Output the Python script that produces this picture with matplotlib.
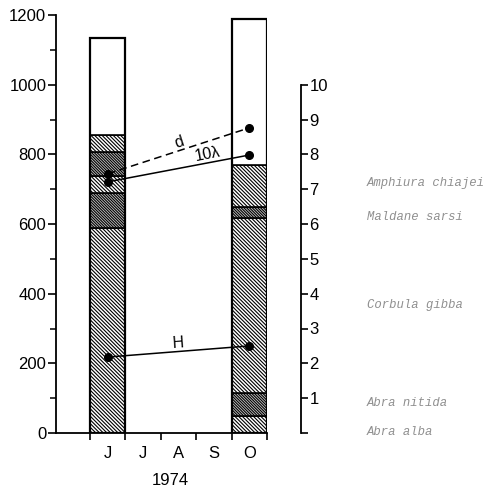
import matplotlib
matplotlib.use("Agg")
import matplotlib.pyplot as plt
from matplotlib.ticker import FixedLocator

plt.rcParams['font.family'] = ['Liberation Sans', 'DejaVu Sans']
plt.rcParams['hatch.linewidth'] = 0.8

# months along x (one slot each), year label
months = ['J', 'J', 'A', 'S', 'O']
year = '1974'

# biomass layers (left axis), bottom to top, for June (slot 0) and October (slot 4)
june_layers = [589, 99, 51, 69, 47]
june_total = 1135
oct_layers = [50, 64, 502, 34, 119]
oct_total = 1188
layer_dense = [False, True, False, True, False]

# index lines (right axis), values at June and October
line_names = ['d', '10λ', 'H']
line_june = [7.44, 7.21, 2.18]
line_oct = [8.76, 7.98, 2.50]
line_styles = [(0, (5, 3)), '-', '-']
line_label_pos = [(2.51, 8.33, 18), (3.31, 8.01, 11), (2.49, 2.58, 4)]

# species legend text, left-axis height of each label
species = ['Amphiura chiajei', 'Maldane sarsi', 'Corbula gibba', 'Abra nitida', 'Abra alba']
species_y = [718, 620, 367, 86, 3]

fig = plt.figure(figsize=(4.94, 4.91), dpi=100)
ax = fig.add_axes([56 / 494, 58 / 491, 211 / 494, 418 / 491])
ax.set_xlim(-0.96, 5)
ax.set_ylim(0, 1200)


def draw_bar(x, layers, total):
    bottom = 0
    for h, dense in zip(layers, layer_dense):
        if dense:
            ax.bar(x, h, width=1, bottom=bottom, align='edge', facecolor='#c6c6c6',
                   edgecolor='black', hatch='\\' * 12, linewidth=1.2, zorder=2)
        else:
            ax.bar(x, h, width=1, bottom=bottom, align='edge', facecolor='white',
                   edgecolor='black', hatch='\\' * 9, linewidth=1.2, zorder=2)
        bottom += h
    ax.bar(x, total - bottom, width=1, bottom=bottom, align='edge', facecolor='white',
           edgecolor='black', linewidth=1.2, zorder=2)
    ax.bar(x, total, width=1, align='edge', fill=False, edgecolor='black',
           linewidth=1.6, zorder=3)


draw_bar(0, june_layers, june_total)
draw_bar(4, oct_layers, oct_total)

for s in ['top', 'right']:
    ax.spines[s].set_visible(False)
ax.spines['left'].set_linewidth(1.3)
ax.spines['bottom'].set_linewidth(1.3)
ax.spines['left'].set_bounds(0, 1200)

ax.set_yticks(range(0, 1201, 200))
ax.yaxis.set_minor_locator(FixedLocator(range(100, 1200, 200)))
ax.tick_params(axis='y', which='major', direction='out', length=6, width=1.2,
               labelsize=12, pad=1)
ax.tick_params(axis='y', which='minor', direction='out', length=4, width=1.1)

ax.set_xticks(range(0, 6))
ax.set_xticklabels([])
ax.set_xticks([i + 0.5 for i in range(5)], labels=months, minor=True)
ax.tick_params(axis='x', which='major', direction='out', length=5, width=1.2)
ax.tick_params(axis='x', which='minor', length=0, labelsize=12, pad=9)
ax.set_xlabel(year, fontsize=12)
ax.xaxis.set_label_coords((170 - 56) / 211, -0.095)

# right axis
ax2 = ax.twinx()
ax2.set_ylim(0, 12)
for s in ['top', 'left', 'bottom']:
    ax2.spines[s].set_visible(False)
ax2.spines['right'].set_position(('axes', (301 - 56) / 211))
ax2.spines['right'].set_bounds(0, 10)
ax2.spines['right'].set_linewidth(1.3)
ax2.set_yticks(range(0, 11), labels=[''] + [str(i) for i in range(1, 11)])
ax2.tick_params(axis='y', direction='out', length=5, width=1.2, labelsize=12, pad=1)

for name, a, b, ls, (tx, ty, rot) in zip(line_names, line_june, line_oct,
                                         line_styles, line_label_pos):
    ax2.plot([0.5, 4.5], [a, b], ls=ls, color='black', lw=1.1, marker='o',
             markersize=5.5, zorder=5)
    ax2.text(tx, ty, name, fontsize=11.5, rotation=rot, ha='center', va='center')

for name, y in zip(species, species_y):
    ax.text(7.82, y, name, family=['Liberation Mono', 'DejaVu Sans Mono'],
            style='italic', fontsize=8.8, color='#8f8f8f', ha='left',
            va='center', clip_on=False)

fig.savefig('out.png', dpi=100)
